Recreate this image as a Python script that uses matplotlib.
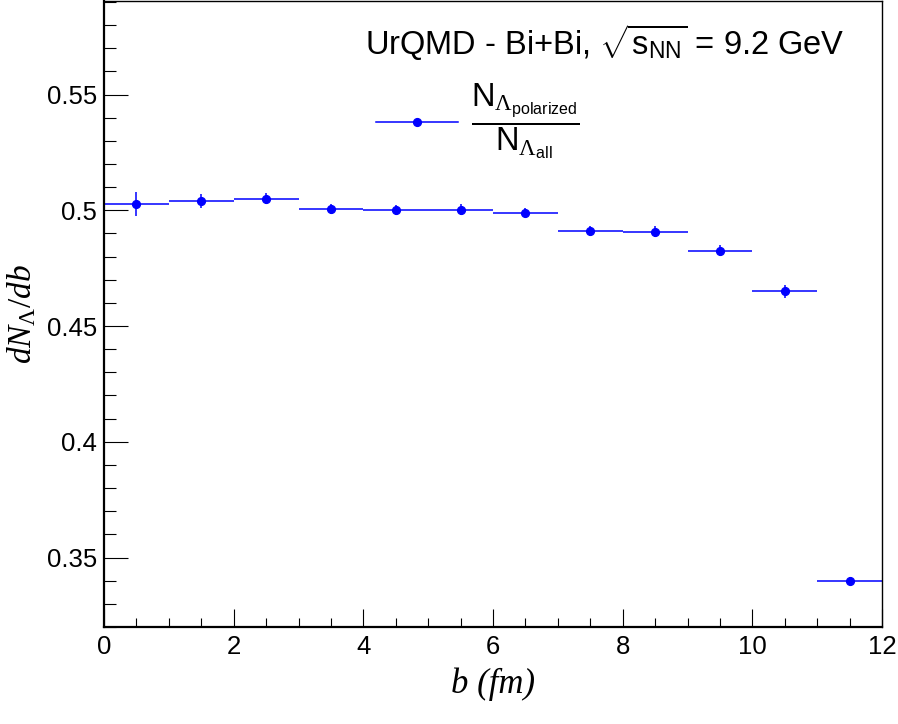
import matplotlib
matplotlib.use('Agg')
import matplotlib.pyplot as plt
from matplotlib.ticker import MultipleLocator, FixedLocator
from matplotlib.lines import Line2D

# data: ratio of polarized lambdas vs impact parameter
b_centers = [0.5, 1.5, 2.5, 3.5, 4.5, 5.5, 6.5, 7.5, 8.5, 9.5, 10.5, 11.5]
b_halfwidth = [0.5] * 12
ratio = [0.5028, 0.5041, 0.5050, 0.5006, 0.5002, 0.5002, 0.4989,
         0.4912, 0.4907, 0.4825, 0.4650, 0.3399]
ratio_err = [0.0051, 0.0030, 0.0025, 0.0022, 0.0021, 0.0023, 0.0020,
             0.0021, 0.0024, 0.0024, 0.0029, 0.0019]

y_ticks = [0.35, 0.40, 0.45, 0.50, 0.55]
y_ticklabels = ['0.35', '0.4', '0.45', '0.5', '0.55']
x_ticks = [0, 2, 4, 6, 8, 10, 12]

plt.rcParams['font.family'] = ['Liberation Sans', 'DejaVu Sans']
plt.rcParams['mathtext.fontset'] = 'custom'
plt.rcParams['mathtext.rm'] = 'Liberation Serif'
plt.rcParams['mathtext.it'] = 'Liberation Serif:italic'
plt.rcParams['mathtext.bf'] = 'Liberation Serif:bold'
plt.rcParams['mathtext.sf'] = 'Liberation Sans'

fig = plt.figure(figsize=(8.98, 7.24), dpi=100)
ax = fig.add_axes([104/898, 1 - 627/724, 778/898, 626/724])

blue = '#0000ff'
ax.errorbar(b_centers, ratio, xerr=b_halfwidth, yerr=ratio_err,
            fmt='o', color=blue, ecolor=blue, markersize=5.6,
            elinewidth=1.1, capsize=0)

ax.set_xlim(0, 12)
ax.set_ylim(0.32, 0.5904)

# ROOT-like ticks
ax.xaxis.set_major_locator(FixedLocator(x_ticks))
ax.xaxis.set_minor_locator(MultipleLocator(0.5))
ax.yaxis.set_major_locator(FixedLocator(y_ticks))
ax.set_yticklabels(y_ticklabels)
ax.yaxis.set_minor_locator(MultipleLocator(0.01))
ax.tick_params(axis='both', which='both', direction='in', top=False, right=False,
               width=0.8, labelsize=18.5)
ax.tick_params(axis='x', which='major', length=13, pad=6)
ax.tick_params(axis='x', which='minor', length=6.5)
ax.tick_params(axis='y', which='major', length=17, pad=5)
ax.tick_params(axis='y', which='minor', length=8.6)

ax.spines['left'].set_linewidth(1.6)
ax.spines['bottom'].set_linewidth(1.6)
ax.spines['top'].set_linewidth(1.0)
ax.spines['right'].set_linewidth(1.0)

ax.set_xlabel('b (fm)', family='Liberation Serif', style='italic',
              fontsize=25, labelpad=6)
ax.set_ylabel(r'$dN_{\Lambda}/db$', fontsize=24, labelpad=6)

# title text
ax.text(0.952, 0.914, r'UrQMD - Bi+Bi, $\sqrt{\mathsf{s}_{\mathsf{NN}}}$ = 9.2 GeV',
        transform=ax.transAxes, ha='right', va='baseline', fontsize=23.5)

# legend
handle = Line2D([], [], color=blue, marker='o', markersize=5.6, lw=1.1)
label = r'$\dfrac{\mathsf{N}_{\Lambda_{\mathsf{polarized}}}}{\mathsf{N}_{\Lambda_{\mathsf{all}}}}$'
ax.legend([handle], [label], loc='center left', bbox_to_anchor=(0.3496, 0.808),
          frameon=False, fontsize=23.5, handlelength=2.5, handletextpad=0.42,
          borderpad=0, borderaxespad=0)

fig.savefig('out.png', dpi=100)
